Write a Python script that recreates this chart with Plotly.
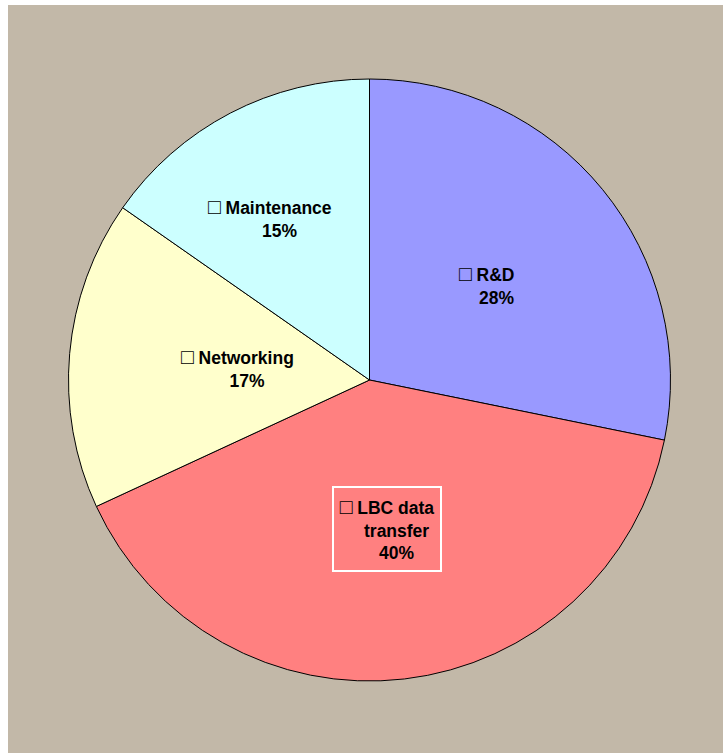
import math
import plotly.graph_objects as go

# ---- data ----
categories = ["R&D", "LBC data transfer", "Networking", "Maintenance"]
values = [28.2, 39.9, 16.6, 15.3]
pct_labels = ["28%", "40%", "17%", "15%"]
label_lines = [["R&D"], ["LBC data", "transfer"], ["Networking"], ["Maintenance"]]
colors = ["#9999FF", "#FF8080", "#FFFFCC", "#CCFFFF"]

W, H = 723, 753
CX, CY, R = 369.5, 380.0, 301.0
label_radius_frac = [0.50, 0.50, 0.44, 0.632]
label_angle_shift = [0.0, 0.0, 0.0, -4.0]

fig = go.Figure()
fig.add_trace(go.Pie(
    labels=categories,
    values=values,
    sort=False,
    direction="clockwise",
    rotation=0,
    marker=dict(colors=colors, line=dict(color="black", width=1)),
    textinfo="none",
    hoverinfo="label+percent",
    showlegend=False,
    domain=dict(x=[(CX - R) / W, (CX + R) / W], y=[1 - (CY + R) / H, 1 - (CY - R) / H]),
))

# label annotations placed at each slice's mid angle
total = sum(values)
cum = 0.0
pad = "\u00a0" * 4
box = "<span style='font-size:21px;font-weight:normal'>\u25a1</span>"
anns = []
for i, v in enumerate(values):
    mid = (cum + v / 2) / total * 2 * math.pi + math.radians(label_angle_shift[i])
    cum += v
    rr = label_radius_frac[i] * R
    px = CX + rr * math.sin(mid)
    py = CY - rr * math.cos(mid)
    lines = label_lines[i]
    text = box + "<b> " + lines[0] + "</b>"
    for ln in lines[1:]:
        text += "<br><b>" + pad + ln + "</b>"
    text += "<br><b>" + pad + pct_labels[i] + "</b>"
    a = dict(
        x=px / W, y=1 - py / H, xref="paper", yref="paper",
        text=text, showarrow=False, align="center",
        xanchor="center", yanchor="middle",
        font=dict(family="Liberation Sans, Arial, sans-serif", size=17.5, color="black"),
    )
    if i == 1:
        a.update(bordercolor="white", borderwidth=2, borderpad=0, width=106, height=82)
    anns.append(a)

fig.update_layout(
    width=W, height=H,
    margin=dict(l=0, r=0, t=0, b=0),
    paper_bgcolor="white",
    plot_bgcolor="white",
    annotations=anns,
    shapes=[dict(
        type="rect", xref="paper", yref="paper",
        x0=8 / W, x1=1, y0=0, y1=1 - 5 / H,
        fillcolor="#C2B8A8", line=dict(width=0), layer="below",
    )],
)

fig.write_html(
    "out.html",
    config={"displayModeBar": False},
    post_script="document.body.style.margin='0';document.body.style.overflow='hidden';",
)
